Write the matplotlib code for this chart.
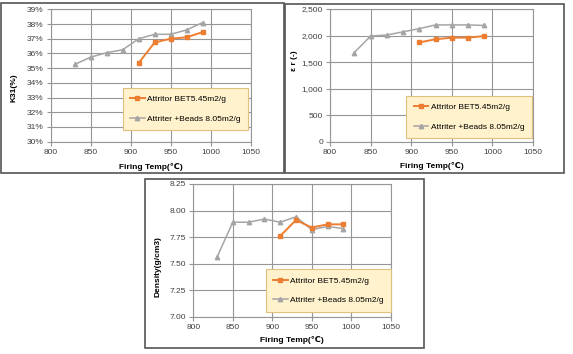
import matplotlib
matplotlib.use("Agg")
import matplotlib.pyplot as plt
from matplotlib.patches import Rectangle
from matplotlib.ticker import FuncFormatter

plt.rcParams['font.family'] = ['Liberation Sans', 'DejaVu Sans']

# firing temperatures
temp_beads = [830, 850, 870, 890, 910, 930, 950, 970, 990]
temp_bet = [910, 930, 950, 970, 990]

label_bet = "Attritor BET5.45m2/g"
label_beads = "Attriter +Beads 8.05m2/g"

# K31 (%)
k31_bet = [35.35, 36.75, 37.0, 37.1, 37.45]
k31_beads = [35.25, 35.75, 36.05, 36.25, 37.0, 37.3, 37.3, 37.6, 38.1]

# dielectric constant
er_bet = [1870, 1930, 1960, 1960, 1990]
er_beads = [1680, 1990, 2010, 2070, 2130, 2200, 2200, 2200, 2190]

# density (g/cm3)
dens_bet = [7.76, 7.91, 7.84, 7.87, 7.87]
dens_beads = [7.56, 7.89, 7.89, 7.92, 7.89, 7.94, 7.82, 7.85, 7.83]

W, H = 573, 354
ORANGE = '#ED7D31'
GRAY = '#A5A5A5'

fig = plt.figure(figsize=(W / 100, H / 100), dpi=100)


def px_axes(x0, y0, x1, y1):
    return fig.add_axes([x0 / W, 1 - y1 / H, (x1 - x0) / W, (y1 - y0) / H])


def frame(x0, y0, x1, y1):
    fig.patches.append(Rectangle((x0 / W, 1 - y1 / H), (x1 - x0) / W, (y1 - y0) / H,
                                 transform=fig.transFigure, fill=False,
                                 edgecolor='#555555', linewidth=1.2))


def panel(ax, ylim, yticks, fmt, ylabel, ylab_xy, xlab_y, bet, beads, leg_box):
    ax.plot(temp_beads, beads, color=GRAY, lw=1.1, marker='^', ms=3.2,
            label=label_beads, zorder=3)
    ax.plot(temp_bet, bet, color=ORANGE, lw=1.4, marker='s', ms=3.4,
            label=label_bet, zorder=4)
    ax.set_xlim(800, 1050)
    ax.set_xticks([800, 850, 900, 950, 1000, 1050])
    ax.set_ylim(*ylim)
    ax.set_yticks(yticks)
    ax.yaxis.set_major_formatter(FuncFormatter(fmt))
    ax.grid(True, color='#969696', lw=0.8)
    ax.set_axisbelow(True)
    for s in ax.spines.values():
        s.set_color('#969696')
        s.set_linewidth(0.8)
    ax.tick_params(labelsize=6, labelcolor='#404040', color='#969696',
                   length=3, width=0.8, pad=2)
    ax.set_ylabel(ylabel, fontsize=6, fontweight='bold')
    ax.yaxis.set_label_coords(*ylab_xy)
    ax.set_xlabel('Firing Temp(℃)', fontsize=6, fontweight='bold')
    ax.xaxis.set_label_coords(0.5, xlab_y)
    h, l = ax.get_legend_handles_labels()
    leg = ax.legend(h[::-1], l[::-1], loc='center', bbox_to_anchor=leg_box,
                    bbox_transform=fig.transFigure, fontsize=6, frameon=True,
                    fancybox=False, facecolor='#FFF2CC', edgecolor='#E0C080',
                    framealpha=1, labelspacing=1.4, handlelength=1.7,
                    borderpad=0.9, handletextpad=0.3)
    leg.get_frame().set_linewidth(0.8)


def leg_center(x0, y0, x1, y1):
    return ((x0 + x1) / 2 / W, 1 - (y0 + y1) / 2 / H)


# panel 1: K31
frame(1, 3, 284, 173)
ax1 = px_axes(50.7, 9.3, 250.7, 141.7)
panel(ax1, (30, 39), range(30, 40), lambda v, p: f"{v:.0f}%", 'K31(%)',
      (-0.165, 0.41), -0.16, k31_bet, k31_beads, leg_center(125, 89, 246, 129))

# panel 2: dielectric constant
frame(285, 4, 564, 173)
ax2 = px_axes(330, 9, 533, 141.7)
panel(ax2, (0, 2500), range(0, 2501, 500), lambda v, p: f"{v:,.0f}", 'ε r (-)',
      (-0.16, 0.61), -0.155, er_bet, er_beads, leg_center(408, 97, 530, 137))

# panel 3: density
frame(145, 178.5, 424, 347.5)
ax3 = px_axes(193.3, 184, 390.7, 316.7)
panel(ax3, (7.0, 8.25), [7.0, 7.25, 7.5, 7.75, 8.0, 8.25], lambda v, p: f"{v:.2f}",
      'Density(g/cm3)', (-0.16, 0.375), -0.145, dens_bet, dens_beads,
      leg_center(268, 271, 389, 310))

fig.savefig('out.png', dpi=100)
